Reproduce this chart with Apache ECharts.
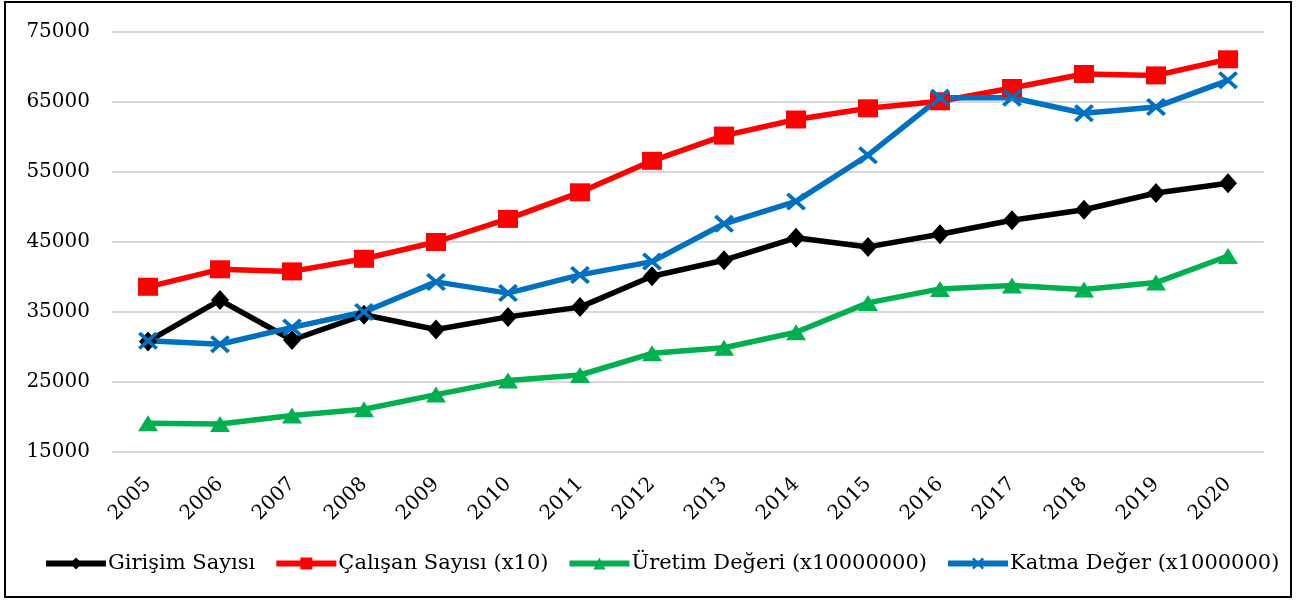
<!DOCTYPE html>
<html lang="tr">
<head>
    <meta charset="UTF-8"/>
    <title>Girişim, Çalışan, Üretim ve Katma Değer</title>
    <script src="https://cdn.jsdelivr.net/npm/echarts@6/dist/echarts.min.js"></script>
    <style>
        html, body { margin: 0; padding: 0; background: #fff; }
        #chart { width: 1297px; height: 600px; }
    </style>
</head>
<body>
<div id="chart"></div>
<script type="text/javascript">
    // yıllar
    var years = ['2005','2006','2007','2008','2009','2010','2011','2012','2013','2014','2015','2016','2017','2018','2019','2020'];

    // seriler
    var girisimSayisi = [30800, 36700, 31000, 34600, 32500, 34300, 35700, 40100, 42400, 45600, 44300, 46100, 48100, 49600, 52000, 53400];
    var calisanSayisi = [38600, 41100, 40800, 42600, 45000, 48300, 52100, 56600, 60200, 62500, 64100, 65100, 67000, 69000, 68800, 71100];
    var uretimDegeri  = [19100, 19000, 20200, 21100, 23200, 25200, 26000, 29100, 29900, 32100, 36300, 38300, 38800, 38200, 39200, 43000];
    var katmaDeger    = [30900, 30400, 32800, 35000, 39300, 37700, 40300, 42200, 47600, 50800, 57400, 65600, 65600, 63400, 64300, 68100];

    // y ekseni
    var yMin = 15000, yMax = 75000, yStep = 10000;

    var serif = '"DejaVu Serif", "Liberation Serif", serif';
    var crossPath = 'path://M0,1.4 L1.4,0 L5,3.6 L8.6,0 L10,1.4 L6.4,5 L10,8.6 L8.6,10 L5,6.4 L1.4,10 L0,8.6 L3.6,5 Z';

    var myChart = echarts.init(document.getElementById('chart'));

    function seri(name, data, color, symbol, size) {
        return {
            name: name,
            type: 'line',
            data: data,
            symbol: symbol,
            symbolSize: size,
            showAllSymbol: true,
            lineStyle: { color: color, width: 5.5 },
            itemStyle: { color: color, borderWidth: 0 },
            emphasis: { disabled: true },
            z: 3
        };
    }

    var option = {
        animation: false,
        backgroundColor: '#fff',
        graphic: [{
            type: 'rect',
            shape: { x: 5, y: 2, width: 1286, height: 595 },
            style: { fill: 'none', stroke: '#000', lineWidth: 2 },
            silent: true
        }],
        grid: {
            left: 112,
            right: 33,
            top: 32,
            bottom: 148
        },
        legend: {
            top: 553,
            left: 43,
            width: 1250,
            padding: 0,
            itemGap: 18,
            itemWidth: 60,
            itemHeight: 15,
            lineStyle: { width: 6 },
            textStyle: { fontFamily: serif, fontSize: 21, color: '#000', padding: [0, 0, 0, -3] },
            data: ['Girişim Sayısı', 'Çalışan Sayısı (x10)', 'Üretim Değeri (x10000000)', 'Katma Değer (x1000000)']
        },
        xAxis: {
            type: 'category',
            data: years,
            boundaryGap: true,
            axisLine: { show: false },
            axisTick: { show: false },
            axisLabel: {
                rotate: 45,
                margin: 29,
                fontFamily: serif,
                fontSize: 20,
                color: '#000'
            }
        },
        yAxis: {
            type: 'value',
            min: yMin,
            max: yMax,
            interval: yStep,
            axisLine: { show: false },
            axisTick: { show: false },
            axisLabel: {
                margin: 22,
                fontFamily: serif,
                fontSize: 20,
                color: '#000',
                formatter: function (v) { return String(v); }
            },
            splitLine: { lineStyle: { color: '#d9d9d9', width: 2 } }
        },
        series: [
            seri('Girişim Sayısı', girisimSayisi, '#000000', 'diamond', [18, 20]),
            seri('Çalışan Sayısı (x10)', calisanSayisi, '#ff0000', 'rect', [20, 18]),
            seri('Üretim Değeri (x10000000)', uretimDegeri, '#00b050', 'triangle', [20, 16]),
            seri('Katma Değer (x1000000)', katmaDeger, '#0070c0', crossPath, [20, 18])
        ]
    };
    myChart.setOption(option);
</script>
</body>
</html>
